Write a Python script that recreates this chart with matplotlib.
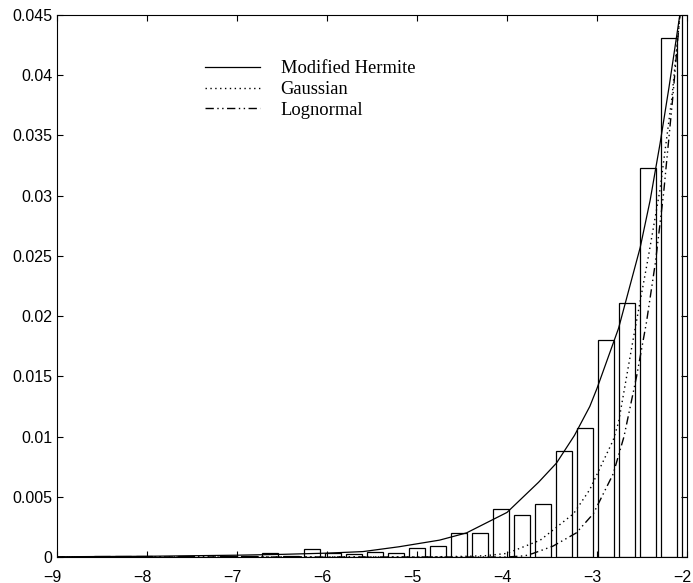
import matplotlib
matplotlib.use("Agg")
import matplotlib.pyplot as plt
import matplotlib.transforms as mtrans
import numpy as np

# histogram: bar heights, one per bin (bins spaced 7/30 apart, centred on -5 + k*7/30)
bin_index = np.arange(-17, 14)
bar_heights = [0.00002, 0.00003, 0.00005, 0.00012, 0.00005, 0.00003, 0.00008,
               0.00004, 0.00006, 0.00010, 0.00030, 0.00012, 0.00065, 0.00035,
               0.00028, 0.00045, 0.00035, 0.00077, 0.00090, 0.00197, 0.00197,
               0.00400, 0.00350, 0.00440, 0.00880, 0.01070, 0.01800, 0.02110,
               0.03230, 0.04310, 0.06000]

# fitted densities
hermite_x = [-9.0, -8.0, -7.0, -6.5, -6.0, -5.6, -5.2, -4.75, -4.45, -4.0,
             -3.65, -3.45, -3.25, -3.08, -3.0, -2.76, -2.52, -2.41, -2.3,
             -2.2, -2.07, -2.0]
hermite_y = [0.00002, 0.00006, 0.00015, 0.00022, 0.00032, 0.00045, 0.00085,
             0.0014, 0.0020, 0.0037, 0.0062, 0.0078, 0.0101, 0.0125, 0.0140,
             0.0190, 0.0257, 0.0296, 0.0343, 0.0390, 0.0455, 0.049]

gauss_x = [-9.0, -5.0, -4.5, -4.25, -4.0, -3.63, -3.26, -3.08, -2.82, -2.76,
           -2.6, -2.43, -2.3, -2.17, -2.08, -2.03]
gauss_y = [0.0, 0.0, 0.00005, 0.0001, 0.0003, 0.0014, 0.0036, 0.0056, 0.0097,
           0.0112, 0.0180, 0.0249, 0.0305, 0.0380, 0.0449, 0.0485]

logn_x = [-9.0, -4.0, -3.8, -3.71, -3.49, -3.23, -3.04, -2.82, -2.70, -2.56,
          -2.45, -2.35, -2.26, -2.16, -2.08, -2.04]
logn_y = [0.0, 0.0, 0.0001, 0.0003, 0.0009, 0.0020, 0.0036, 0.0069, 0.0100,
          0.0150, 0.0195, 0.0245, 0.0302, 0.0380, 0.0449, 0.0480]

xticks = [-9, -8, -7, -6, -5, -4, -3, -2]
yticks = [0, 0.005, 0.01, 0.015, 0.02, 0.025, 0.03, 0.035, 0.04, 0.045]
ytick_labels = ["0", "0.005", "0.01", "0.015", "0.02", "0.025", "0.03",
                "0.035", "0.04", "0.045"]

bin_w = 7.0 / 30
centers = -5 + bin_index * bin_w

fig = plt.figure(figsize=(6.93, 5.83), dpi=100)
ax = fig.add_axes([57 / 693, 26 / 583, 630 / 693, 542 / 583])

ax.bar(centers, bar_heights, width=0.8 * bin_w, facecolor="white",
       edgecolor="black", linewidth=0.9)

h1, = ax.plot(hermite_x, hermite_y, color="black", lw=0.9, ls="-")
h2, = ax.plot(gauss_x, gauss_y, color="black", lw=1.0, ls=(0, (1, 2.5)))
h3, = ax.plot(logn_x, logn_y, color="black", lw=1.0,
              ls=(0, (6, 2.5, 1, 2.5, 1, 2.5)))

ax.set_xlim(-9, -2)
ax.set_ylim(0, 0.045)
ax.set_xticks(xticks)
ax.set_yticks(yticks)
ax.set_yticklabels(ytick_labels)
ax.tick_params(direction="in", top=True, right=True, length=4.5, width=0.8,
               labelsize=11.5)
ax.tick_params(axis="y", pad=3.5)
ax.tick_params(axis="x", pad=9)
for lab in ax.get_xticklabels() + ax.get_yticklabels():
    lab.set_family("Liberation Sans")
# nudge x labels a little to the left so "-2" stays inside the figure
shift = mtrans.ScaledTranslation(-4.5 / 100, 0, fig.dpi_scale_trans)
for lab in ax.get_xticklabels():
    lab.set_transform(lab.get_transform() + shift)
for s in ax.spines.values():
    s.set_linewidth(0.8)

leg = ax.legend([h1, h2, h3], ["Modified Hermite", "Gaussian", "Lognormal"],
                loc="upper left", bbox_to_anchor=(0.223, 0.93), frameon=False,
                prop={"family": "Liberation Serif", "size": 13.3},
                handlelength=3.0, handletextpad=1.1, labelspacing=0.2,
                borderaxespad=0)

fig.savefig("out.png", dpi=100)
